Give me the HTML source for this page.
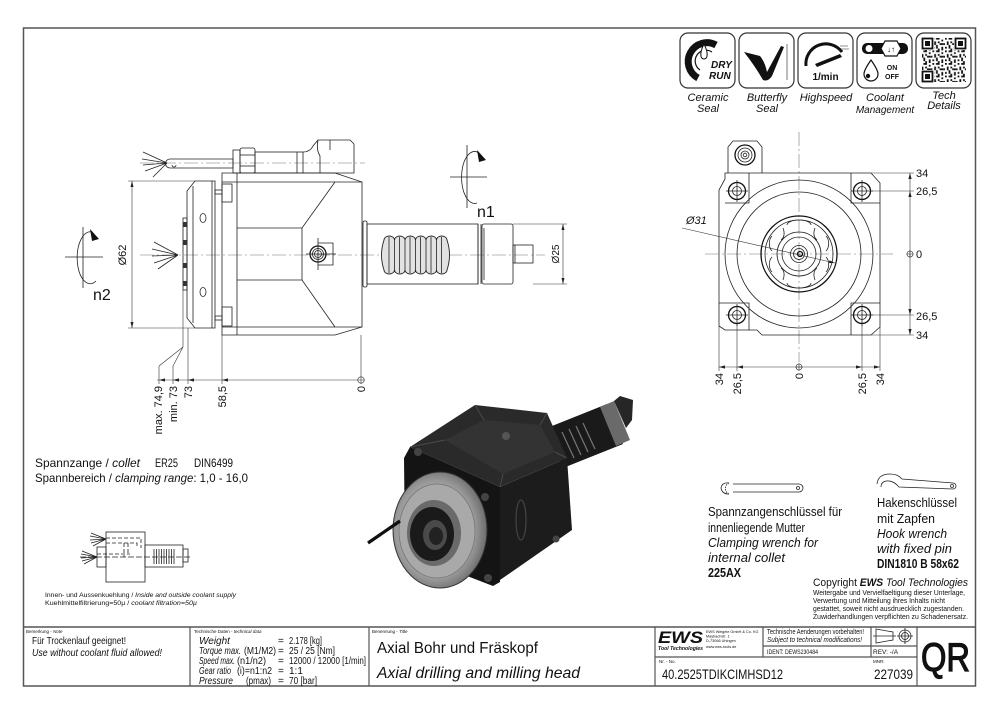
<!DOCTYPE html>
<html><head><meta charset="utf-8"><style>
html,body{margin:0;padding:0;background:#fff;}
svg{display:block;}
text{font-family:"Liberation Sans",sans-serif;fill:#111;}
.ln{fill:none;stroke:#222;stroke-width:0.8;}
.tk{fill:none;stroke:#111;stroke-width:1.3;}
.cl{fill:none;stroke:#777;stroke-width:0.6;stroke-dasharray:14 3 2 3;}
.dm{fill:none;stroke:#333;stroke-width:0.6;}
.fr{fill:none;stroke:#555;stroke-width:1.5;}
</style></head><body>
<svg width="1000" height="715" viewBox="0 0 1000 715" xmlns="http://www.w3.org/2000/svg">
<defs>
<marker id="ar" viewBox="0 0 8 4" refX="8" refY="2" markerWidth="7" markerHeight="3" markerUnits="userSpaceOnUse" orient="auto-start-reverse"><path d="M0,0 L8,2 L0,4 Z" fill="#222"/></marker>
<radialGradient id="gd" cx="0.45" cy="0.5" r="0.6"><stop offset="0" stop-color="#c8c8c8"/><stop offset="0.7" stop-color="#9a9a9a"/><stop offset="1" stop-color="#5a5a5a"/></radialGradient>
<pattern id="qrp" width="12.6" height="12.6" patternUnits="userSpaceOnUse">
<rect x="0" y="0" width="1.8" height="1.8" fill="#111"/><rect x="3.6" y="0" width="3.6" height="1.8" fill="#111"/><rect x="9" y="1.8" width="1.8" height="1.8" fill="#111"/><rect x="1.8" y="3.6" width="1.8" height="3.6" fill="#111"/><rect x="5.4" y="3.6" width="1.8" height="1.8" fill="#111"/><rect x="7.2" y="5.4" width="3.6" height="1.8" fill="#111"/><rect x="0" y="9" width="1.8" height="1.8" fill="#111"/><rect x="3.6" y="7.2" width="1.8" height="3.6" fill="#111"/><rect x="9" y="9" width="1.8" height="3.6" fill="#111"/><rect x="5.4" y="10.8" width="1.8" height="1.8" fill="#111"/><rect x="10.8" y="5.4" width="1.8" height="1.8" fill="#111"/>
</pattern>
</defs>

<!-- frame -->
<rect x="23.5" y="28" width="952" height="658" class="fr"/>
<line x1="23.5" y1="627" x2="975.5" y2="627" class="fr"/>
<g stroke="#555" stroke-width="1.2" fill="none">
<line x1="190" y1="627" x2="190" y2="686"/>
<line x1="369" y1="627" x2="369" y2="686"/>
<line x1="655" y1="627" x2="655" y2="686"/>
<line x1="917" y1="627" x2="917" y2="686"/>
<line x1="655" y1="657" x2="917" y2="657"/>
<line x1="763" y1="627" x2="763" y2="657"/>
<line x1="871" y1="627" x2="871" y2="657"/>
<line x1="763" y1="646" x2="917" y2="646"/>
</g>

<!-- icons -->
<g fill="none" stroke="#333" stroke-width="1.2">
<rect x="680" y="33" width="55" height="55" rx="8"/>
<rect x="739" y="33" width="55" height="55" rx="8"/>
<rect x="798" y="33" width="55" height="55" rx="8"/>
<rect x="857" y="33" width="55" height="55" rx="8"/>
<rect x="916" y="33" width="55" height="55" rx="8"/>
</g>
<path d="M716,45 A17,17 0 1,0 698,78" fill="none" stroke="#111" stroke-width="7"/>
<path d="M712,52 A10,10 0 1,0 700,70" fill="none" stroke="#111" stroke-width="1.2"/>
<path d="M704,44 Q700,52 701,56 A3,3 0 0,0 707,56 Q708,52 704,44 Z" fill="#fff" stroke="#111" stroke-width="1"/>
<text x="711" y="68" font-size="10" font-weight="bold" font-style="italic">DRY</text>
<text x="709" y="79" font-size="10" font-weight="bold" font-style="italic">RUN</text>
<path d="M744,52 L760,56 Q765,62 767,72 L781,46 L784,47 L772,76 Q768,82 763,80 Q755,66 744,52 Z" fill="#111"/>
<line x1="787" y1="44" x2="787" y2="80" stroke="#777" stroke-width="1"/>
<path d="M806,66 A20,20 0 0,1 842,52" fill="none" stroke="#111" stroke-width="3"/>
<path d="M815,64 L840,54 L842,57 L817,67 Z" fill="#111"/>
<line x1="840" y1="46" x2="848" y2="46" stroke="#777" stroke-width="0.8"/><line x1="841" y1="49" x2="849" y2="49" stroke="#777" stroke-width="0.8"/>
<text x="825.5" y="80" font-size="10" font-weight="bold" text-anchor="middle">1/min</text>
<rect x="862" y="43" width="46" height="11" rx="5" fill="#111"/>
<circle cx="869" cy="48.5" r="3.5" fill="#fff"/>
<path d="M885,41 L897,41 L901,48.5 L897,56 L885,56 L881,48.5 Z" fill="#fff" stroke="#111" stroke-width="1.2"/>
<text x="891" y="52" font-size="8" font-weight="bold" text-anchor="middle">↓↑</text>
<path d="M871,60 Q864,70 864,74 A7,7 0 0,0 878,74 Q878,70 871,60 Z" fill="#fff" stroke="#111" stroke-width="1.2"/>
<circle cx="868" cy="76" r="2.2" fill="#111"/>
<text x="892" y="70" font-size="7" font-weight="bold" text-anchor="middle">ON</text>
<text x="892" y="79" font-size="7" font-weight="bold" text-anchor="middle">OFF</text>
<rect x="922" y="38" width="44" height="44" fill="url(#qrp)"/>
<g fill="#fff"><rect x="921" y="37" width="13" height="13"/><rect x="954" y="37" width="13" height="13"/><rect x="921" y="70" width="13" height="13"/></g>
<g fill="none" stroke="#111" stroke-width="1.8"><rect x="922.5" y="38.5" width="10" height="10"/><rect x="955.5" y="38.5" width="10" height="10"/><rect x="922.5" y="71.5" width="10" height="10"/></g>
<g fill="#111"><rect x="925" y="41" width="5" height="5"/><rect x="958" y="41" width="5" height="5"/><rect x="925" y="74" width="5" height="5"/></g>
<g font-size="11" font-style="italic" text-anchor="middle">
<text x="708" y="101">Ceramic</text><text x="708" y="112">Seal</text>
<text x="767" y="101">Butterfly</text><text x="767" y="112">Seal</text>
<text x="826" y="101">Highspeed</text>
<text x="885" y="101">Coolant</text><text x="885" y="113" font-size="10">Management</text>
<text x="944" y="99">Tech</text><text x="944" y="109">Details</text>
</g>

<!-- ===== side view ===== -->
<line x1="140" y1="255" x2="545" y2="255" class="cl"/>
<line x1="140" y1="163" x2="365" y2="163" class="cl"/>
<path d="M170,159 H233 V168 H170 A4.5,4.5 0 0,1 170,159 Z" class="ln"/>
<path d="M172,165 a2,2 0 1,0 4,0" class="ln"/>
<rect x="233" y="150" width="7" height="23" class="ln"/>
<rect x="240" y="148" width="15" height="25" rx="2" class="ln"/>
<line x1="240" y1="155" x2="255" y2="155" class="ln"/><line x1="240" y1="166" x2="255" y2="166" class="ln"/>
<rect x="255" y="152" width="48" height="21" class="ln"/>
<line x1="297" y1="152" x2="297" y2="173" class="ln"/>
<path d="M303,152 Q310,152 313,146 L318,140 H350 L354,144 V173 H303" class="ln"/>
<path d="M318,140 Q316,150 320,156 V173" class="ln"/>
<line x1="330" y1="140" x2="330" y2="150" class="ln"/>
<g class="ln" stroke-width="0.7">
<path d="M167,163 L143,152 M167,163 L142,159 M167,163 L143,165 M167,163 L145,171 M167,163 L153,177"/>
<path d="M178,255 L154,242 M178,255 L152,249 M178,255 L152,256 M178,255 L154,263 M178,255 L158,269"/>
</g>
<path d="M195,181 H215 V328 H195 L187,318 V191 Z" class="ln" stroke-width="1"/>
<line x1="193" y1="186" x2="193" y2="323" class="ln"/>
<line x1="212" y1="181" x2="212" y2="328" class="ln"/>
<ellipse cx="203" cy="218" rx="3" ry="4.5" class="ln"/><ellipse cx="203" cy="292" rx="3" ry="4.5" class="ln"/>
<rect x="183" y="218" width="4" height="72" class="ln"/>
<g fill="#333"><rect x="183" y="222" width="4" height="5"/><rect x="183" y="240" width="4" height="5"/><rect x="183" y="263" width="4" height="5"/><rect x="183" y="281" width="4" height="5"/></g>
<rect x="215" y="190" width="7" height="4" class="ln"/><rect x="215" y="316" width="7" height="4" class="ln"/>
<path d="M222,173 H335 L362,182 V327 L335,335 H222 Z" class="ln" stroke-width="1"/>
<line x1="222" y1="182" x2="362" y2="182" class="ln"/>
<line x1="222" y1="327" x2="362" y2="327" class="ln"/>
<line x1="237" y1="173" x2="237" y2="335" class="ln"/>
<rect x="222" y="184" width="10" height="18" class="ln"/>
<rect x="222" y="307" width="10" height="19" class="ln"/>
<path d="M237,228 H302 L335,182 M237,280 H302 L335,327 M302,228 V280" class="ln"/>
<path d="M318,243 H333 V265 H318" class="ln"/>
<circle cx="318" cy="254" r="8" class="tk"/><circle cx="318" cy="254" r="5.5" class="ln"/><circle cx="318" cy="254" r="3.5" class="ln"/>
<line x1="306" y1="254" x2="336" y2="254" class="ln" stroke-width="0.4"/><line x1="318" y1="238" x2="318" y2="270" class="ln" stroke-width="0.4"/>
<rect x="363" y="221" width="4" height="66" rx="1.5" class="ln"/>
<rect x="367" y="224" width="111" height="60" class="ln" stroke-width="1"/>
<path d="M384,240 a5.25,4 0 0,1 10.5,0 a5.25,4 0 0,1 10.5,0 a5.25,4 0 0,1 10.5,0 a5.25,4 0 0,1 10.5,0 a5.25,4 0 0,1 10.5,0 a5.25,4 0 0,1 10.5,0 Q452,255 447,270 a5.25,4 0 0,1 -10.5,0 a5.25,4 0 0,1 -10.5,0 a5.25,4 0 0,1 -10.5,0 a5.25,4 0 0,1 -10.5,0 a5.25,4 0 0,1 -10.5,0 a5.25,4 0 0,1 -10.5,0 Q379,255 384,240 Z" fill="#e2e2e2" stroke="#222" stroke-width="0.9"/>
<g class="ln"><path d="M394.5,240 V270 M405,240 V270 M415.5,240 V270 M426,240 V270 M436.5,240 V270 M389,237 V273 M399.5,237 V273 M410,237 V273 M420.5,237 V273 M431,237 V273 M441.5,237 V273"/></g>
<line x1="478" y1="224" x2="478" y2="284" class="ln"/><line x1="481" y1="224" x2="481" y2="284" class="ln"/>
<rect x="482" y="224" width="31" height="60" rx="2" class="ln" stroke-width="1"/>
<line x1="484" y1="228" x2="484" y2="280" class="ln" stroke-width="0.5"/>
<rect x="513" y="245" width="20" height="18" class="ln"/>
<line x1="515" y1="245" x2="515" y2="263" class="ln" stroke-width="0.5"/>
<path d="M513,224 H567 M533,284 H567" class="dm"/>
<line x1="563" y1="224" x2="563" y2="284" class="dm" marker-start="url(#ar)" marker-end="url(#ar)"/>
<text transform="translate(559,254) rotate(-90)" font-size="10" text-anchor="middle">Ø25</text>
<path d="M128,181 H195 M128,328 H195" class="dm"/>
<line x1="132" y1="181" x2="132" y2="328" class="dm" marker-start="url(#ar)" marker-end="url(#ar)"/>
<text transform="translate(126,255) rotate(-90)" font-size="11" text-anchor="middle">Ø62</text>
<path d="M450,177 H487 M467,145 V208" class="ln"/>
<path d="M479,153 A13,26 0 1,0 477,203" class="ln" stroke-width="1"/>
<path d="M477,150 L486,160 L479,162 Z" fill="#111"/>
<text x="477" y="217" font-size="16">n1</text>
<path d="M65,257 H103 M83,227 V288" class="ln"/>
<path d="M92,232 A13,26 0 1,0 96,281" class="ln" stroke-width="1"/>
<path d="M90,229 L99,239 L92,241 Z" fill="#111"/>
<text x="93" y="300" font-size="16">n2</text>
<line x1="157" y1="380" x2="358" y2="380" class="dm"/>
<path d="M159,366 V384 M173,366 V384 M188,328 V384 M222,335 V384 M361,335 V376" class="dm"/>
<path d="M159,366 L183,347 M173,366 L183,347 M183,347 V290" class="dm"/>
<circle cx="361" cy="380" r="3.2" class="dm"/><path d="M357,380 H365 M361,376 V384" class="dm"/>
<g fill="#222"><path d="M159,380 l6,-1.6 v3.2 Z"/><path d="M173,380 l6,-1.6 v3.2 Z"/><path d="M188,380 l6,-1.6 v3.2 Z"/><path d="M222,380 l6,-1.6 v3.2 Z"/></g>
<g font-size="11" text-anchor="end">
<text transform="translate(162,386) rotate(-90)">max. 74,9</text>
<text transform="translate(177,386) rotate(-90)">min. 73</text>
<text transform="translate(192,386) rotate(-90)">73</text>
<text transform="translate(226,386) rotate(-90)">58,5</text>
<text transform="translate(365,386) rotate(-90)">0</text>
</g>

<!-- ===== front view ===== -->
<line x1="705" y1="254" x2="893" y2="254" class="cl"/>
<line x1="799" y1="132" x2="799" y2="362" class="cl"/>
<path d="M728,173 V147 L733,141 H757 L762,147 V173" class="ln" stroke-width="1"/>
<circle cx="745" cy="155" r="10" class="tk" stroke-width="2"/><circle cx="745" cy="155" r="7" class="ln"/><circle cx="745" cy="155" r="4" class="ln"/><circle cx="745" cy="155" r="1.8" class="ln"/>
<path d="M725,173 H871 L880,183 V327 L871,335 H762 L757,330 H725 L719,326 V190 L725,179 Z" class="ln" stroke-width="1"/>
<path d="M725,203 H749 V173 M851,173 V203 H880 M719,303 H749 V330 M851,335 V303 H880" class="ln"/>
<g>
<circle cx="737" cy="191" r="8.5" class="tk" stroke-width="2"/><circle cx="737" cy="191" r="4.5" class="ln"/>
<circle cx="862" cy="191" r="8.5" class="tk" stroke-width="2"/><circle cx="862" cy="191" r="4.5" class="ln"/>
<circle cx="737" cy="315" r="8.5" class="tk" stroke-width="2"/><circle cx="737" cy="315" r="4.5" class="ln"/>
<circle cx="862" cy="315" r="8.5" class="tk" stroke-width="2"/><circle cx="862" cy="315" r="4.5" class="ln"/>
</g>
<path d="M726,191 H748 M737,180 V202 M851,191 H873 M862,180 V202 M726,315 H748 M737,304 V326 M851,315 H873 M862,304 V326" class="ln" stroke-width="0.4"/>
<circle cx="799" cy="254" r="74" class="ln" stroke-width="0.9"/>
<circle cx="799" cy="254" r="62" class="ln" stroke-width="0.9"/>
<circle cx="799" cy="254" r="38" class="tk" stroke-width="1.6"/>
<circle cx="799" cy="254" r="34" class="ln"/>
<circle cx="799" cy="254" r="22" class="ln"/>
<circle cx="799" cy="254" r="17" class="ln"/>
<g class="ln">
<path d="M787,225 a12,5 0 0,1 24,0"/><path d="M787,283 a12,5 0 0,0 24,0"/>
<path d="M772,236 a6,9 0 0,0 0,15"/><path d="M772,257 a6,9 0 0,0 0,15"/>
<path d="M826,236 a6,9 0 0,1 0,15"/><path d="M826,257 a6,9 0 0,1 0,15"/>
<path d="M783,228 Q786,236 781,240 M815,228 Q812,236 817,240 M783,280 Q786,272 781,268 M815,280 Q812,272 817,268"/>
</g>
<circle cx="799" cy="254" r="8.5" class="ln"/><circle cx="799" cy="254" r="5.5" class="ln"/><circle cx="800" cy="254" r="2.5" class="tk"/>
<line x1="682" y1="228" x2="835" y2="263" class="dm" marker-end="url(#ar)"/>
<text x="686" y="224" font-size="11" font-style="italic">Ø31</text>
<path d="M871,173 H914 M870,191 H914 M862,315 H914 M871,335 H914" class="dm"/>
<line x1="910" y1="173" x2="910" y2="335" class="dm"/>
<circle cx="910" cy="254" r="3" class="dm"/><path d="M906,254 H914 M910,250 V258" class="dm"/>
<g fill="#222"><path d="M910,173 l-1.6,6 h3.2 Z"/><path d="M910,191 l-1.6,6 h3.2 Z"/><path d="M910,315 l-1.6,-6 h3.2 Z"/><path d="M910,335 l-1.6,-6 h3.2 Z"/></g>
<g font-size="11">
<text x="916" y="177">34</text><text x="916" y="195">26,5</text><text x="916" y="258">0</text><text x="916" y="320">26,5</text><text x="916" y="339">34</text>
</g>
<path d="M719,326 V371 M737,324 V371 M862,324 V371 M880,327 V371" class="dm"/>
<line x1="719" y1="367" x2="880" y2="367" class="dm"/>
<circle cx="799" cy="367" r="3" class="dm"/><path d="M795,367 H803 M799,363 V371" class="dm"/>
<g fill="#222"><path d="M719,367 l6,-1.6 v3.2 Z"/><path d="M737,367 l6,-1.6 v3.2 Z"/><path d="M862,367 l-6,-1.6 v3.2 Z"/><path d="M880,367 l-6,-1.6 v3.2 Z"/></g>
<g font-size="11" text-anchor="end">
<text transform="translate(723,373) rotate(-90)">34</text>
<text transform="translate(741,373) rotate(-90)">26,5</text>
<text transform="translate(803,373) rotate(-90)">0</text>
<text transform="translate(866,373) rotate(-90)">26,5</text>
<text transform="translate(884,373) rotate(-90)">34</text>
</g>

<!-- ===== 3D render ===== -->
<g>
<polygon points="547,428 607,404 623,444 563,468" fill="#1a1a1a"/>
<polygon points="600,407 614,401 630,440 616,446" fill="#6a6a6a"/>
<polygon points="614,401 620,396 633,400 632,420 626,428" fill="#262626"/>
<g stroke="#777" stroke-width="1.2"><line x1="562" y1="432" x2="574" y2="458"/><line x1="569" y1="429" x2="581" y2="455"/><line x1="576" y1="426" x2="588" y2="452"/><line x1="583" y1="423" x2="595" y2="449"/></g>
<polygon points="500,487 567,458 572,530 500,580" fill="#1c1c1c"/>
<polygon points="410,447 475,405 547,413 567,458 500,487" fill="#2a2a2a"/>
<polygon points="445,440 484,420 540,425 555,452 503,474" fill="#333"/>
<path d="M410,447 L445,440 M475,405 L484,420 M547,413 L540,425 M567,458 L555,452 M500,487 L503,474" stroke="#4a4a4a" stroke-width="1"/>
<polygon points="404,458 410,447 500,487 500,582 493,586 405,552" fill="#141414"/>
<ellipse cx="521" cy="520" rx="5" ry="20" fill="none" stroke="#444" stroke-width="1.2"/>
<circle cx="506" cy="436" r="4" fill="#555"/>
<circle cx="418" cy="452" r="4" fill="#444"/><circle cx="485" cy="497" r="4" fill="#444"/><circle cx="488" cy="578" r="4" fill="#444"/><circle cx="556" cy="539" r="3.5" fill="#444"/>
<ellipse cx="440" cy="530" rx="47" ry="58" fill="url(#gd)" stroke="#333" stroke-width="1"/>
<ellipse cx="437" cy="531" rx="38" ry="47" fill="#a9a9a9" stroke="#777" stroke-width="0.8"/>
<ellipse cx="434" cy="533" rx="27" ry="33" fill="#6a6a6a"/>
<ellipse cx="432" cy="534" rx="22" ry="27" fill="#1a1a1a"/>
<ellipse cx="435" cy="535" rx="12" ry="15" fill="#4a4a4a"/>
<ellipse cx="436" cy="536" rx="7" ry="9" fill="#222"/>
<line x1="368" y1="543" x2="400" y2="521" stroke="#111" stroke-width="3.2"/>
</g>

<!-- collet text -->
<text x="35" y="467" font-size="12" textLength="105" lengthAdjust="spacingAndGlyphs">Spannzange / <tspan font-style="italic">collet</tspan></text>
<text x="155" y="467" font-size="12" textLength="23" lengthAdjust="spacingAndGlyphs">ER25</text>
<text x="194" y="467" font-size="12" textLength="39" lengthAdjust="spacingAndGlyphs">DIN6499</text>
<text x="35" y="482" font-size="12" textLength="213" lengthAdjust="spacingAndGlyphs">Spannbereich / <tspan font-style="italic">clamping range</tspan>: 1,0 - 16,0</text>
<rect x="106" y="532" width="39" height="50" class="ln"/>
<rect x="97" y="547" width="9" height="20" class="ln"/>
<rect x="145" y="545" width="38" height="22" class="ln"/>
<rect x="183" y="549" width="5" height="13" class="ln"/>
<line x1="80" y1="557" x2="192" y2="557" class="ln" stroke-dasharray="6 2"/>
<path d="M106,538 H141 V548 M106,543 H137 V546 M124,543 V557 M128,543 V555" class="ln" stroke-dasharray="4 2"/>
<path d="M97,554 H130" class="ln" stroke-dasharray="4 2" stroke-width="1.2"/>
<g class="ln" stroke-width="0.7"><path d="M154,549 V564 M156.5,549 V564 M159,549 V564 M161.5,549 V564 M164,549 V564 M166.5,549 V564 M169,549 V564 M171.5,549 V564 M174,549 V564"/>
<path d="M106,539 L91,533 M106,539 L90,536 M106,539 L90,540 M106,539 L91,543 M106,539 L93,546"/>
<path d="M97,557 L82,551 M97,557 L81,554 M97,557 L81,558 M97,557 L82,561 M97,557 L84,564"/></g>
<text x="45" y="597" font-size="6" textLength="191" lengthAdjust="spacingAndGlyphs">Innen- und Aussenkuehlung / <tspan font-style="italic">Inside and outside coolant supply</tspan></text>
<text x="45" y="605" font-size="6" textLength="152" lengthAdjust="spacingAndGlyphs">Kuehlmittelfiltrierung=50µ / <tspan font-style="italic">coolant filtration=50µ</tspan></text>

<!-- wrenches -->
<path d="M729,483 Q722,482 721,488 Q722,494 729,494 M733,484 H799 A4,4 0 0,1 799,492 H733" class="ln" stroke-width="1.2"/>
<path d="M729,483 A6,6 0 0,0 729,494" class="ln" stroke-width="2.5" stroke-dasharray="1.5 1"/>
<circle cx="798" cy="488" r="1.5" class="ln"/>
<path d="M877,484 Q878,474 890,474 Q898,474 902,479 L953,483 A3,3 0 0,1 953,489 L899,487 Q893,480 886,481 Q881,482 881,487" class="ln" stroke-width="1.2"/>
<circle cx="952" cy="486" r="1.5" class="ln"/>
<g font-size="12.5">
<text x="708" y="516" textLength="134" lengthAdjust="spacingAndGlyphs">Spannzangenschlüssel für</text>
<text x="708" y="532" textLength="97" lengthAdjust="spacingAndGlyphs">innenliegende Mutter</text>
<text x="708" y="547" font-style="italic" textLength="110" lengthAdjust="spacingAndGlyphs">Clamping wrench for</text>
<text x="708" y="562" font-style="italic" textLength="77" lengthAdjust="spacingAndGlyphs">internal collet</text>
<text x="708" y="577" font-weight="bold" textLength="33" lengthAdjust="spacingAndGlyphs">225AX</text>
<text x="877" y="507" textLength="80" lengthAdjust="spacingAndGlyphs">Hakenschlüssel</text>
<text x="877" y="523" textLength="58" lengthAdjust="spacingAndGlyphs">mit Zapfen</text>
<text x="877" y="538" font-style="italic" textLength="70" lengthAdjust="spacingAndGlyphs">Hook wrench</text>
<text x="877" y="553" font-style="italic" textLength="75" lengthAdjust="spacingAndGlyphs">with fixed pin</text>
<text x="877" y="568" font-weight="bold" textLength="82" lengthAdjust="spacingAndGlyphs">DIN1810 B 58x62</text>
</g>
<text x="813" y="586" font-size="11" textLength="155" lengthAdjust="spacingAndGlyphs">Copyright <tspan font-weight="bold" font-style="italic">EWS</tspan> <tspan font-style="italic">Tool Technologies</tspan></text>
<g font-size="7.2">
<text x="813" y="595" textLength="152" lengthAdjust="spacingAndGlyphs">Weitergabe und Vervielfaeltigung dieser Unterlage,</text>
<text x="813" y="603" textLength="132" lengthAdjust="spacingAndGlyphs">Verwertung und Mitteilung ihres Inhalts nicht</text>
<text x="813" y="611" textLength="151" lengthAdjust="spacingAndGlyphs">gestattet, soweit nicht ausdruecklich zugestanden.</text>
<text x="813" y="619" textLength="155" lengthAdjust="spacingAndGlyphs">Zuwiderhandlungen verpflichten zu Schadenersatz.</text>
</g>

<!-- title block text -->
<g font-size="4.5" fill="#333">
<text x="26" y="633">Bemerkung - <tspan font-style="italic">Note</tspan></text>
<text x="194" y="633">Technische Daten - <tspan font-style="italic">technical data</tspan></text>
<text x="372" y="633">Benennung - <tspan font-style="italic">Title</tspan></text>
<text x="659" y="663">Nr. - No.</text>
<text x="873" y="663">MNR:</text>
</g>
<text x="32" y="644" font-size="10.5" textLength="94" lengthAdjust="spacingAndGlyphs">Für Trockenlauf geeignet!</text>
<text x="32" y="656" font-size="10.5" font-style="italic" textLength="130" lengthAdjust="spacingAndGlyphs">Use without coolant fluid allowed!</text>
<g font-size="10">
<text x="199" y="644" font-style="italic">Weight</text>
<text x="199" y="654" font-style="italic" textLength="42" lengthAdjust="spacingAndGlyphs">Torque max.</text>
<text x="199" y="664" font-style="italic" textLength="36" lengthAdjust="spacingAndGlyphs">Speed max.</text>
<text x="199" y="674" font-style="italic" textLength="32" lengthAdjust="spacingAndGlyphs">Gear ratio</text>
<text x="199" y="684" font-style="italic" textLength="34" lengthAdjust="spacingAndGlyphs">Pressure</text>
<text x="244" y="654" textLength="32" lengthAdjust="spacingAndGlyphs">(M1/M2)</text>
<text x="237" y="664" textLength="29" lengthAdjust="spacingAndGlyphs">(n1/n2)</text>
<text x="237" y="674" textLength="35" lengthAdjust="spacingAndGlyphs">(i)=n1:n2</text>
<text x="246" y="684" textLength="25" lengthAdjust="spacingAndGlyphs">(pmax)</text>
<text x="278" y="644">=</text><text x="278" y="654">=</text><text x="278" y="664">=</text><text x="278" y="674">=</text><text x="278" y="684">=</text>
<text x="289" y="644" textLength="33" lengthAdjust="spacingAndGlyphs">2.178 [kg]</text>
<text x="289" y="654" textLength="46" lengthAdjust="spacingAndGlyphs">25 / 25 [Nm]</text>
<text x="289" y="664" textLength="77" lengthAdjust="spacingAndGlyphs">12000 / 12000 [1/min]</text>
<text x="289" y="674">1:1</text>
<text x="289" y="684" textLength="28" lengthAdjust="spacingAndGlyphs">70 [bar]</text>
</g>
<text x="377" y="653" font-size="16" textLength="161" lengthAdjust="spacingAndGlyphs">Axial Bohr und Fräskopf</text>
<text x="377" y="678" font-size="16" font-style="italic" textLength="203" lengthAdjust="spacingAndGlyphs">Axial drilling and milling head</text>
<text x="658" y="643" font-size="17" font-weight="bold" font-style="italic" textLength="45" lengthAdjust="spacingAndGlyphs">EWS</text>
<text x="658" y="650" font-size="5.5" font-weight="bold" font-style="italic" textLength="45" lengthAdjust="spacingAndGlyphs">Tool Technologies</text>
<g font-size="3.8">
<text x="706" y="633">EWS Weigele GmbH &amp; Co. KG</text>
<text x="706" y="637.5">Maybachstr. 1</text>
<text x="706" y="642">D-73066 Uhingen</text>
<text x="706" y="648">www.ews-tools.de</text>
</g>
<text x="767" y="634" font-size="7" textLength="97" lengthAdjust="spacingAndGlyphs">Technische Aenderungen vorbehalten!</text>
<text x="767" y="642" font-size="7" font-style="italic" textLength="95" lengthAdjust="spacingAndGlyphs">Subject to technical modifications!</text>
<text x="767" y="654" font-size="6.5" textLength="51" lengthAdjust="spacingAndGlyphs">IDENT:  DEWS230484</text>
<text x="873" y="654" font-size="6.5">REV:  -/A</text>
<path d="M876,629 L893,632 V640 L876,643 Z" class="ln"/>
<line x1="873" y1="636" x2="896" y2="636" class="ln" stroke-width="0.5"/>
<circle cx="905" cy="636" r="6" class="ln" stroke-width="1"/><circle cx="905" cy="636" r="3.5" class="ln"/>
<path d="M897,636 H913 M905,628 V644" class="ln" stroke-width="0.5"/>
<text x="662" y="679" font-size="14" textLength="121" lengthAdjust="spacingAndGlyphs">40.2525TDIKCIMHSD12</text>
<text x="874" y="679" font-size="14" textLength="39" lengthAdjust="spacingAndGlyphs">227039</text>
<text x="921" y="671" font-size="40" stroke="#111" stroke-width="1.2" textLength="49" lengthAdjust="spacingAndGlyphs">QR</text>
</svg>
</body></html>
